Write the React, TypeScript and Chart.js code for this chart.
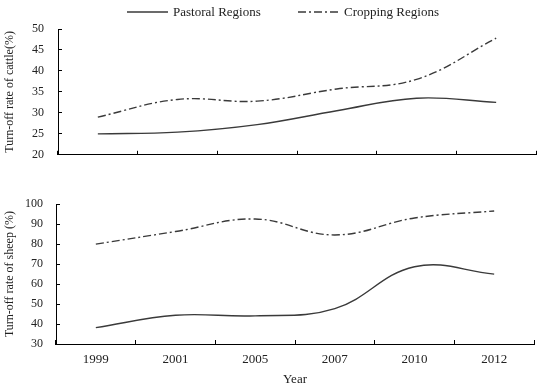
import React, { useEffect, useRef } from "react";
import { Chart, registerables } from "chart.js";

Chart.register(...registerables);

// ---- data ----
const years = ["1999", "2001", "2005", "2007", "2010", "2012"];
const seriesNames = ["Pastoral Regions", "Cropping Regions"];

const cattlePastoral = [25.0, 25.4, 27.2, 30.5, 33.5, 32.5];
const cattleCropping = [29.0, 33.2, 32.8, 35.7, 38.0, 47.8];
const cattleTicks = [20, 25, 30, 35, 40, 45, 50];

const sheepPastoral = [38.2, 44.4, 44.1, 47.7, 68.7, 65.0];
const sheepCropping = [80.0, 86.3, 92.6, 84.6, 93.1, 96.6];
const sheepTicks = [30, 40, 50, 60, 70, 80, 90, 100];

const cattleTitle = "Turn-off rate of cattle(%)";
const sheepTitle = "Turn-off rate of sheep (%)";
const xTitle = "Year";

// ---- style ----
const FONT = '"Liberation Serif", "Times New Roman", serif';
const LINE = "#3a3a3a";
const TEXT = "#222";
const DASH = [8, 3, 2, 3];

const legendPlugin = {
  id: "lineLegend",
  afterDraw(chart: any) {
    const ctx = chart.ctx;
    const xs = [127, 298];
    const y = 12;
    ctx.save();
    chart.data.datasets.forEach((ds: any, i: number) => {
      const x = xs[i];
      ctx.strokeStyle = ds.borderColor;
      ctx.lineWidth = ds.borderWidth;
      ctx.setLineDash(ds.borderDash || []);
      ctx.beginPath();
      ctx.moveTo(x, y);
      ctx.lineTo(x + 41, y);
      ctx.stroke();
      ctx.setLineDash([]);
      ctx.fillStyle = TEXT;
      ctx.font = `13px ${FONT}`;
      ctx.textBaseline = "middle";
      ctx.textAlign = "left";
      ctx.fillText(ds.label, x + 46, y + 1);
    });
    ctx.restore();
  },
};

function makeConfig(
  pastoral: number[],
  cropping: number[],
  ticks: number[],
  title: string,
  top: boolean
): any {
  return {
    type: "line",
    data: {
      labels: years,
      datasets: [
        {
          label: seriesNames[0],
          data: pastoral,
          borderColor: LINE,
          borderWidth: 1.4,
          pointRadius: 0,
          tension: 0.4,
          fill: false,
        },
        {
          label: seriesNames[1],
          data: cropping,
          borderColor: LINE,
          borderWidth: 1.4,
          borderDash: DASH,
          pointRadius: 0,
          tension: 0.4,
          fill: false,
        },
      ],
    },
    options: {
      responsive: false,
      animation: false,
      devicePixelRatio: 1,
      layout: {
        padding: top
          ? { top: 29, right: 2, left: 0, bottom: 0 }
          : { top: 20, right: 4, left: 0, bottom: 0 },
      },
      plugins: {
        legend: { display: false },
        tooltip: { enabled: false },
      },
      scales: {
        x: {
          type: "category",
          offset: true,
          grid: {
            offset: true,
            drawOnChartArea: false,
            drawTicks: true,
            tickLength: -4,
            color: "#000",
          },
          border: { display: true, color: "#000", width: 1 },
          ticks: {
            display: !top,
            color: TEXT,
            font: { family: FONT, size: 13 },
            padding: 12,
            maxRotation: 0,
            autoSkip: false,
          },
          title: {
            display: !top,
            text: xTitle,
            color: TEXT,
            font: { family: FONT, size: 13 },
            padding: { top: 0, bottom: 1 },
          },
          afterFit: (s: any) => {
            s.height = top ? 15 : 44;
          },
        },
        y: {
          type: "linear",
          min: ticks[0],
          max: ticks[ticks.length - 1],
          afterBuildTicks: (s: any) => {
            s.ticks = ticks.map((v) => ({ value: v }));
          },
          grid: {
            drawOnChartArea: false,
            drawTicks: true,
            tickLength: -4,
            color: "#000",
          },
          border: { display: true, color: "#000", width: 1 },
          ticks: {
            color: TEXT,
            font: { family: FONT, size: 12 },
            padding: top ? 18 : 17,
          },
          title: {
            display: true,
            text: title,
            color: TEXT,
            font: { family: FONT, size: 12 },
            padding: { top: 3, bottom: 0 },
          },
          afterFit: (s: any) => {
            s.width = top ? 58 : 56;
          },
        },
      },
    },
    plugins: top ? [legendPlugin] : [],
  };
}

function ChartCanvas(props: {
  pastoral: number[];
  cropping: number[];
  ticks: number[];
  title: string;
  top: boolean;
  y: number;
  h: number;
}) {
  const ref = useRef<HTMLCanvasElement | null>(null);
  useEffect(() => {
    if (!ref.current) return;
    const chart = new Chart(
      ref.current,
      makeConfig(props.pastoral, props.cropping, props.ticks, props.title, props.top)
    );
    return () => chart.destroy();
  }, []);
  return (
    <canvas
      ref={ref}
      width={538}
      height={props.h}
      style={{ position: "absolute", left: 0, top: props.y, width: 538, height: props.h }}
    />
  );
}

export default function App() {
  return (
    <div
      style={{
        position: "absolute",
        left: 0,
        top: 0,
        width: 538,
        height: 388,
        background: "#fff",
        overflow: "hidden",
      }}
    >
      <ChartCanvas
        pastoral={cattlePastoral}
        cropping={cattleCropping}
        ticks={cattleTicks}
        title={cattleTitle}
        top={true}
        y={0}
        h={180}
      />
      <ChartCanvas
        pastoral={sheepPastoral}
        cropping={sheepCropping}
        ticks={sheepTicks}
        title={sheepTitle}
        top={false}
        y={180}
        h={208}
      />
    </div>
  );
}
